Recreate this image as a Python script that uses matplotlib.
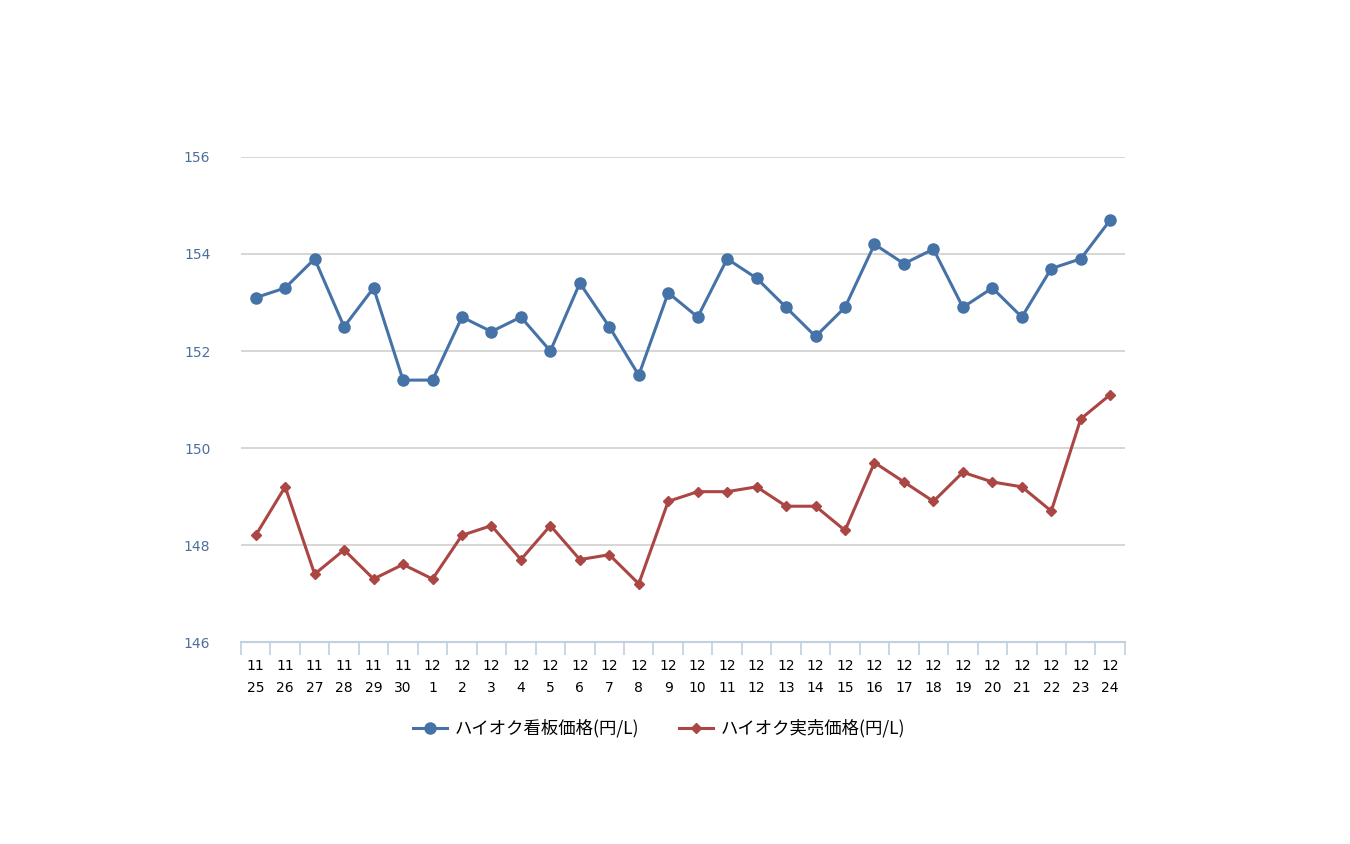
import matplotlib
matplotlib.use("Agg")
import matplotlib.pyplot as plt
import numpy as np

plt.rcParams['font.family'] = ['Noto Sans CJK JP', 'DejaVu Sans']

# Dates (month, day)
months = [11] * 6 + [12] * 24
days = [25, 26, 27, 28, 29, 30] + list(range(1, 25))

# Prices (yen / L)
board_price = [153.1, 153.3, 153.9, 152.5, 153.3, 151.4, 151.4, 152.7, 152.4, 152.7,
               152.0, 153.4, 152.5, 151.5, 153.2, 152.7, 153.9, 153.5, 152.9, 152.3,
               152.9, 154.2, 153.8, 154.1, 152.9, 153.3, 152.7, 153.7, 153.9, 154.7]
actual_price = [148.2, 149.2, 147.4, 147.9, 147.3, 147.6, 147.3, 148.2, 148.4, 147.7,
                148.4, 147.7, 147.8, 147.2, 148.9, 149.1, 149.1, 149.2, 148.8, 148.8,
                148.3, 149.7, 149.3, 148.9, 149.5, 149.3, 149.2, 148.7, 150.6, 151.1]

series_names = ["ハイオク看板価格(円/L)", "ハイオク実売価格(円/L)"]
yticks = [146, 148, 150, 152, 154, 156]

blue = "#4572A7"
red = "#AA4643"

fig = plt.figure(figsize=(13.5, 8.44), dpi=100)
ax = fig.add_axes([0.1785, 0.2393, 0.6548, 0.5747])

x = np.arange(len(days))
ax.plot(x, board_price, color=blue, lw=2.2, marker="o", ms=8, label=series_names[0], zorder=3)
ax.plot(x, actual_price, color=red, lw=2.2, marker="D", ms=5.5, label=series_names[1], zorder=3)

ax.set_xlim(-0.5, len(days) - 0.5)
ax.set_ylim(146, 156)
ax.set_yticks(yticks)
ax.set_yticklabels([str(v) for v in yticks], color="#4d6e9c", fontsize=10,
                   family="DejaVu Sans")
for v in yticks[1:]:
    ax.axhline(v, color="#d0d0d0", lw=1.2, zorder=1)

ax.set_xticks(x)
ax.set_xticklabels([f"{m}\n{d}" for m, d in zip(months, days)], fontsize=10,
                   family="DejaVu Sans", linespacing=1.75)
ax.set_xticks(np.arange(-0.5, len(days)), minor=True)
ax.tick_params(axis="x", which="major", length=0, pad=12)
ax.tick_params(axis="x", which="minor", length=9, color="#c0d0e0", width=1.2)
ax.tick_params(axis="y", length=0, pad=22)

for s in ["top", "right", "left"]:
    ax.spines[s].set_visible(False)
ax.spines["bottom"].set_color("#c0d0e0")
ax.spines["bottom"].set_linewidth(1.5)

fig.legend(loc="center", bbox_to_anchor=(0.488, 0.137), ncol=2, frameon=False,
           fontsize=12.5, handlelength=2.0, columnspacing=2.3, handletextpad=0.4)

fig.savefig("out.png", dpi=100)
